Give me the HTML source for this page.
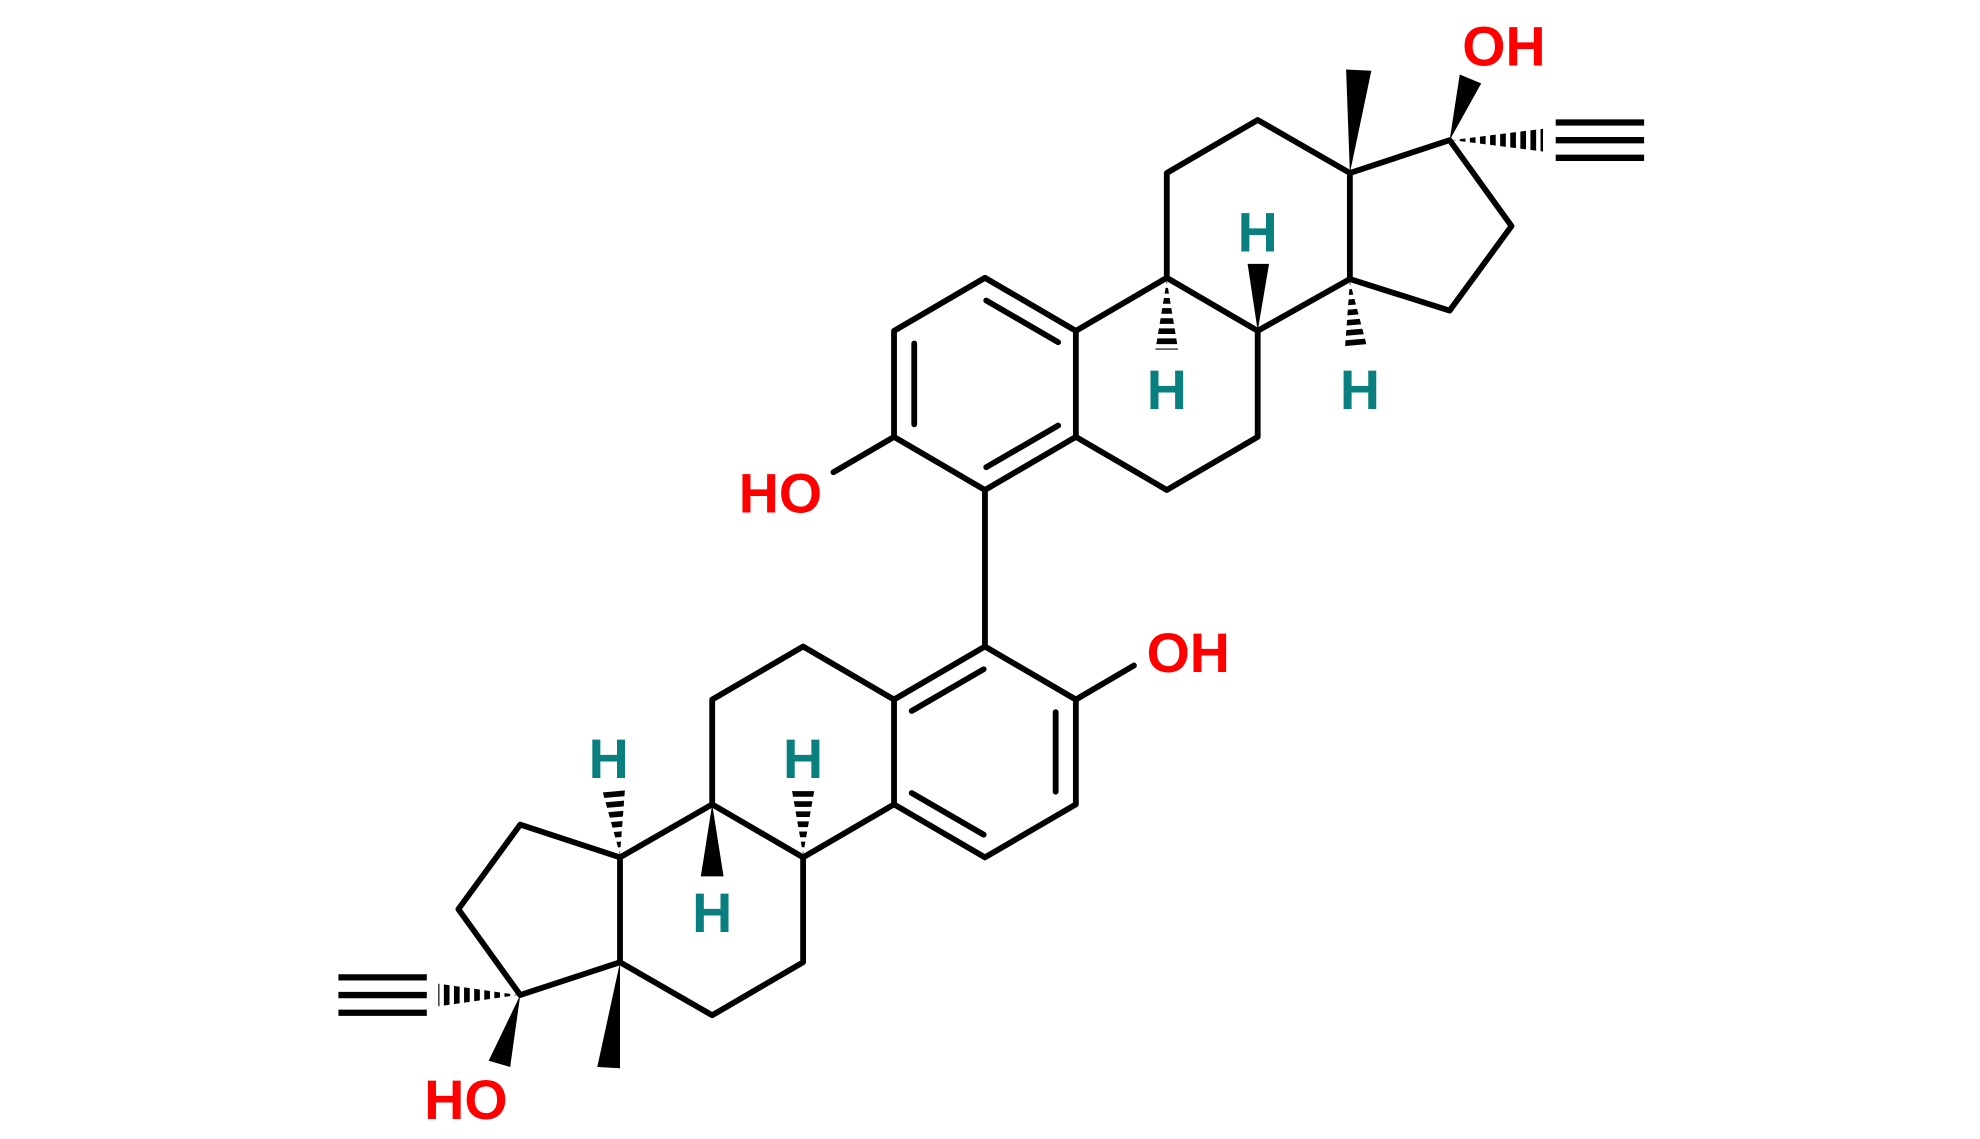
<!DOCTYPE html>
<html><head><meta charset="utf-8"><style>html,body{margin:0;padding:0;background:#fff}svg{display:block}</style></head>
<body>
<svg width="1980" height="1139" viewBox="0 0 1568 902" xmlns="http://www.w3.org/2000/svg">
<defs>
<clipPath id="h1"><polygon points="1150,111 1222,102 1222,120"/></clipPath>
<clipPath id="h2"><polygon points="924,222 915,277 933,277"/></clipPath>
<clipPath id="h3"><polygon points="1069,223 1065,277 1083,276"/></clipPath>
<clipPath id="h4"><polygon points="410,788 347,779 347,797"/></clipPath>
<clipPath id="h5"><polygon points="636,677 627,625 645,625"/></clipPath>
<clipPath id="h6"><polygon points="491,677 477,626 495,624"/></clipPath>
</defs>
<g stroke="#000" stroke-width="4.6" fill="none" stroke-linejoin="round" stroke-linecap="round">
<polygon points="780,220 852,262 852,346 780,388 708,346 708,262"/>
<line x1="781" y1="238" x2="838" y2="271"/>
<line x1="838" y1="337" x2="781" y2="370"/>
<line x1="724" y1="272" x2="724" y2="336"/>
<line x1="708" y1="346" x2="660" y2="374"/>
<polyline points="852,262 924,220 996,262 996,346 924,388 852,346"/>
<polyline points="924,220 924,137 996,95 1069,137 1069,221 996,262"/>
<polyline points="1069,137 1148,111 1197,179 1148,246 1069,221"/>
<line x1="780" y1="388" x2="780" y2="512"/>
<polygon points="780,512 852,554 852,637 780,679 708,637 708,554"/>
<line x1="722" y1="563" x2="779" y2="530"/>
<line x1="836" y1="564" x2="836" y2="627"/>
<line x1="779" y1="661" x2="722" y2="628"/>
<line x1="852" y1="554" x2="898" y2="527"/>
<polyline points="708,554 636,512 564,554 564,637 636,679 708,637"/>
<polyline points="564,637 491,679 491,762 564,804 636,762 636,679"/>
<polyline points="491,679 412,653 363,720 412,788 491,762"/>
</g>
<g stroke="#000" stroke-width="5">
<line x1="1232" y1="97" x2="1302" y2="97"/><line x1="1232" y1="111" x2="1302" y2="111"/><line x1="1232" y1="125" x2="1302" y2="125"/>
<line x1="268" y1="774" x2="338" y2="774"/><line x1="268" y1="788" x2="338" y2="788"/><line x1="268" y1="802" x2="338" y2="802"/>
</g>
<g fill="#000">
<polygon points="1069,137 1066,55 1086,56"/>
<polygon points="1148,111 1156,59 1173,66"/>
<polygon points="996,262 988,209 1005,209"/>
<polygon points="491,762 473,845 491,846"/>
<polygon points="412,788 387,840 404,845"/>
<polygon points="564,637 555,694 573,694"/>
</g>
<g stroke="#000" stroke-width="30" stroke-dasharray="4.5 3.5">
<line x1="1148" y1="111" x2="1224" y2="111" clip-path="url(#h1)"/>
<line x1="924" y1="220" x2="924" y2="279" clip-path="url(#h2)"/>
<line x1="1069" y1="221" x2="1074" y2="279" clip-path="url(#h3)"/>
<line x1="412" y1="788" x2="345" y2="788" clip-path="url(#h4)"/>
<line x1="636" y1="679" x2="636" y2="623" clip-path="url(#h5)"/>
<line x1="491" y1="679" x2="486" y2="622" clip-path="url(#h6)"/>
</g>
<g font-family="Liberation Sans, sans-serif" font-weight="bold" font-size="44" text-anchor="middle">
<text x="1191" y="52" fill="#ff0000">OH</text>
<text x="618" y="406" fill="#ff0000">HO</text>
<text x="941" y="532" fill="#ff0000">OH</text>
<text x="369" y="886" fill="#ff0000">HO</text>
<g fill="#0a7f7f">
<text x="996" y="199">H</text>
<text x="924" y="324">H</text>
<text x="1077" y="324">H</text>
<text x="482" y="616">H</text>
<text x="636" y="616">H</text>
<text x="564" y="738">H</text>
</g>
</g>
</svg>
</body></html>
